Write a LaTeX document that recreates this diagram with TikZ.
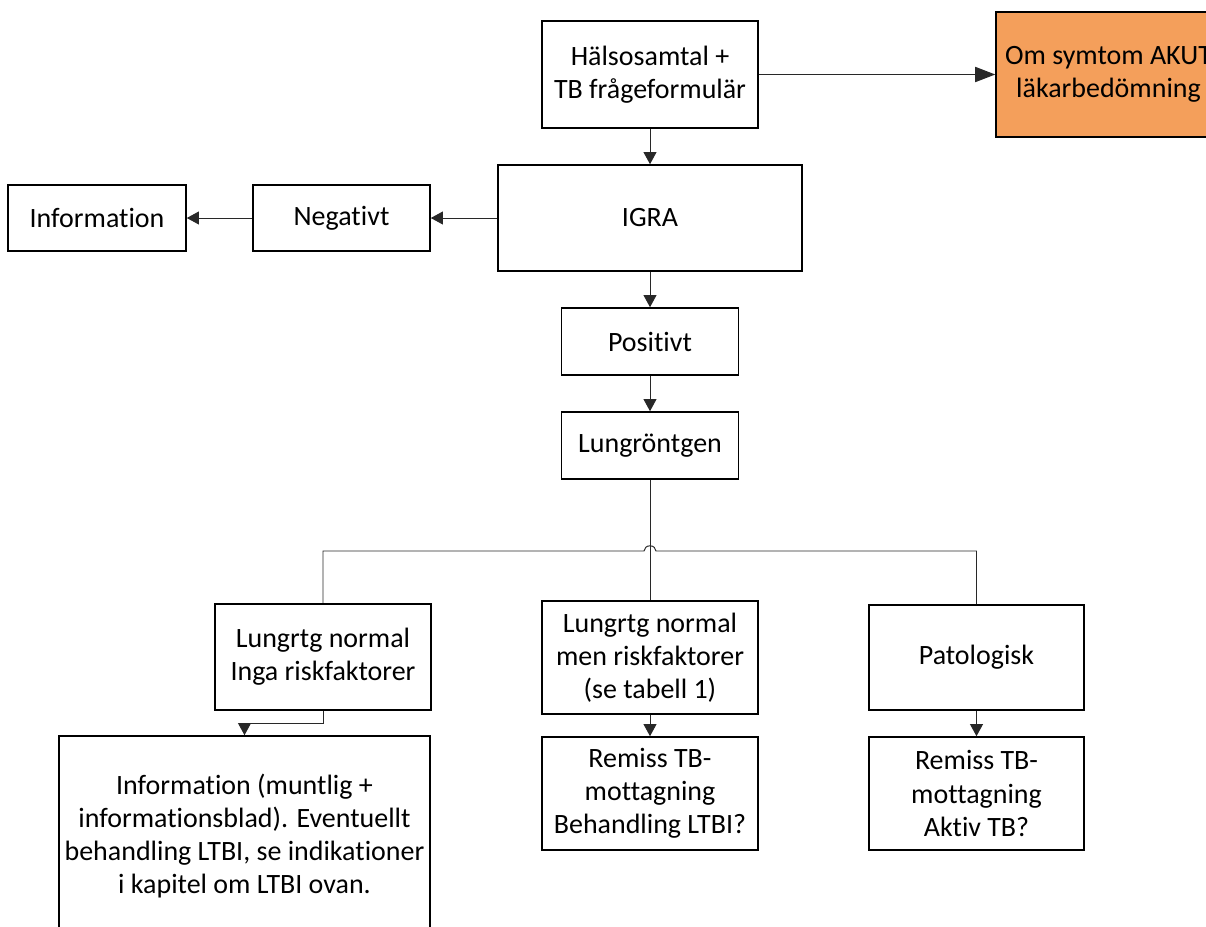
\documentclass[tikz,border=0pt]{standalone}
\usepackage{fontspec}
\setmainfont[Ligatures=NoCommon]{Carlito}
\usepackage{xcolor}
\usepackage{tikz}
\usetikzlibrary{arrows.meta, calc}
\definecolor{akutorange}{RGB}{244, 159, 91}
\definecolor{linegray}{RGB}{40, 40, 40}

\begin{document}
\begin{tikzpicture}[
    box/.style={rectangle, draw=black, line width=1.1pt, fill=white, align=center, inner sep=0pt, font=\fontsize{19.9pt}{23.5pt}\selectfont},
    akutbox/.style={box, fill=akutorange},
    conn/.style={draw=linegray, line width=0.7pt},
    connarr/.style={conn, -{Triangle[length=0.3cm, width=0.32cm]}},
    bigarr/.style={conn, -{Triangle[length=0.5cm, width=0.38cm]}}
]
    \useasboundingbox (0,0) rectangle (30.15,-23.175);
    \clip (0,0) rectangle (30.15,-23.175);

    % Top row
    \node[box, minimum width=5.4cm, minimum height=2.675cm] (hals) at (16.25, -1.8625) {Hälsosamtal +\\TB frågeformulär};
    \node[akutbox, minimum width=5.625cm, minimum height=3.125cm] (akut) at (27.7125, -1.8625) {Om symtom AKUT\\läkarbedömning};

    % IGRA and negative branch
    \node[box, minimum width=7.6cm, minimum height=2.65cm] (igra) at (16.25, -5.45) {IGRA};
    \node[box, minimum width=4.425cm, minimum height=1.65cm] (neg) at (8.5375, -5.45) {Negativt};
    \node[box, minimum width=4.45cm, minimum height=1.65cm] (info) at (2.425, -5.45) {Information};

    % Positive branch
    \node[box, minimum width=4.425cm, minimum height=1.675cm] (pos) at (16.25, -8.5375) {Positivt};
    \node[box, minimum width=4.425cm, minimum height=1.675cm] (lung) at (16.25, -11.1375) {Lungröntgen};
    \coordinate (split) at (16.25, -13.775);

    % Outcomes
    \node[box, minimum width=5.4cm, minimum height=2.65cm] (l1) at (8.075, -16.425) {Lungrtg normal\\Inga riskfaktorer};
    \node[box, minimum width=5.4cm, minimum height=2.825cm] (m1) at (16.25, -16.4375) {Lungrtg normal\\men riskfaktorer\\(se tabell 1)};
    \node[box, minimum width=5.375cm, minimum height=2.625cm] (r1) at (24.4125, -16.4375) {Patologisk};

    \node[box, minimum width=9.275cm, minimum height=5cm] (b1) at (6.1125, -20.9) {Information (muntlig +\\informationsblad). Eventuellt\\behandling LTBI, se indikationer\\i kapitel om LTBI ovan.};
    \node[box, minimum width=5.4cm, minimum height=2.825cm] (m2) at (16.25, -19.8375) {Remiss TB-\\mottagning\\Behandling LTBI?};
    \node[box, minimum width=5.375cm, minimum height=2.825cm] (r2) at (24.4125, -19.8375) {Remiss TB-\\mottagning\\Aktiv TB?};

    % Connectors
    \draw[bigarr] (hals.east) -- (akut.west);
    \draw[connarr] (hals.south) -- (igra.north);
    \draw[connarr] (igra.west) -- (neg.east);
    \draw[connarr] (neg.west) -- (info.east);
    \draw[connarr] (igra.south) -- (pos.north);
    \draw[connarr] (pos.south) -- (lung.north);
    \draw[conn] (lung.south) -- (m1.north);
    \draw[conn] (l1.north) |- ([xshift=-0.15cm]split) arc[start angle=180, end angle=0, x radius=0.15cm, y radius=0.13cm] -| (r1.north);
    \draw[connarr] (l1.south) -- ++(0,-0.325) -| (b1.north);
    \draw[connarr] (m1.south) -- (m2.north);
    \draw[connarr] (r1.south) -- (r2.north);
\end{tikzpicture}
\end{document}
